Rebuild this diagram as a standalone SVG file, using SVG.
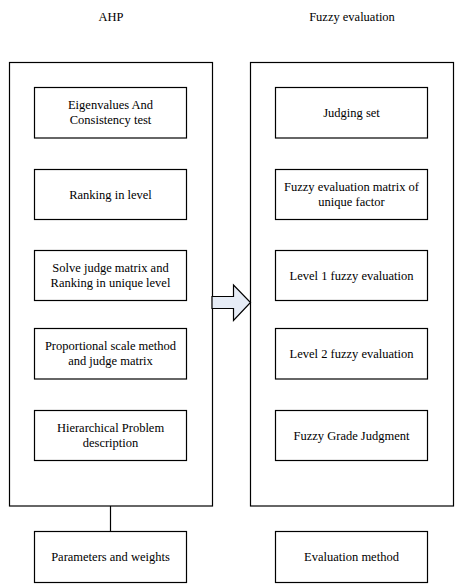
<svg xmlns="http://www.w3.org/2000/svg" width="464" height="586" viewBox="0 0 464 586">
<style>
.box{fill:#fff;stroke:#000;stroke-width:1.2}
.frame{fill:none;stroke:#000;stroke-width:1.2}
.t text{font-size:12.5px;fill:#000;text-anchor:middle}
.line{stroke:#000;stroke-width:1.2;fill:none}
.arrow{fill:#e6ecf6;stroke:#000;stroke-width:1.2}
</style>
<rect width="464" height="586" fill="#fff"/>
<g class="t" font-family="'Liberation Serif', 'DejaVu Serif', serif">
<text x="111" y="21">AHP</text>
<text x="352" y="21">Fuzzy evaluation</text>
<g id="ahp-frame"><rect class="frame" x="9.5" y="62.5" width="203" height="443.5"/></g>
<g id="fuzzy-frame"><rect class="frame" x="250.5" y="62.5" width="203" height="443.5"/></g>
<g id="connectors">
<line class="line" x1="110.5" y1="506" x2="110.5" y2="531"/>
<path class="arrow" d="M212,296.5 H233.5 V285 L250.5,302.5 L233.5,320.5 V308.5 H212 Z"/>
</g>
<g id="eigen"><rect class="box" x="34.5" y="87.5" width="152" height="50.5"/><text x="110.5" y="109">Eigenvalues And</text><text x="110.5" y="124">Consistency test</text></g>
<g id="ranking"><rect class="box" x="34.5" y="169.5" width="152" height="50"/><text x="110.5" y="198.5">Ranking in level</text></g>
<g id="solve"><rect class="box" x="34.5" y="250.5" width="152" height="50"/><text x="110.5" y="272">Solve judge matrix and</text><text x="110.5" y="287">Ranking in unique level</text></g>
<g id="proportional"><rect class="box" x="34.5" y="328.5" width="152" height="50.5"/><text x="110.5" y="350">Proportional scale method</text><text x="110.5" y="365">and judge matrix</text></g>
<g id="hierarchical"><rect class="box" x="34.5" y="410.5" width="152" height="50"/><text x="110.5" y="432">Hierarchical Problem</text><text x="110.5" y="447">description</text></g>
<g id="params"><rect class="box" x="34.5" y="531.5" width="152" height="51"/><text x="110.5" y="561">Parameters and weights</text></g>
<g id="judging"><rect class="box" x="275.5" y="87.5" width="152" height="50.5"/><text x="351.5" y="117">Judging set</text></g>
<g id="fuzzymatrix"><rect class="box" x="275.5" y="169.5" width="152" height="50"/><text x="351.5" y="191">Fuzzy evaluation matrix of</text><text x="351.5" y="206">unique factor</text></g>
<g id="level1"><rect class="box" x="275.5" y="250.5" width="152" height="50"/><text x="351.5" y="279.5">Level 1 fuzzy evaluation</text></g>
<g id="level2"><rect class="box" x="275.5" y="328.5" width="152" height="50.5"/><text x="351.5" y="358">Level 2 fuzzy evaluation</text></g>
<g id="grade"><rect class="box" x="275.5" y="410.5" width="152" height="50"/><text x="351.5" y="439.5">Fuzzy Grade Judgment</text></g>
<g id="evalmethod"><rect class="box" x="275.5" y="531.5" width="152" height="51"/><text x="351.5" y="561">Evaluation method</text></g>
</g>
</svg>
